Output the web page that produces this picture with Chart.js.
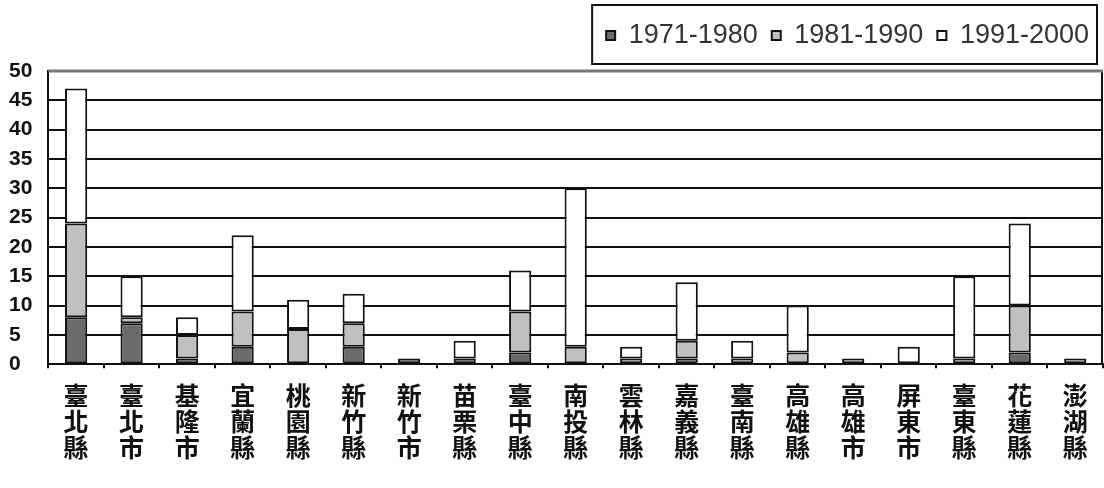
<!DOCTYPE html>
<html>
<head>
<meta charset="utf-8">
<script src="https://cdn.jsdelivr.net/npm/chart.js@4.4.1/dist/chart.umd.min.js"></script>
<style>
  html, body { margin: 0; padding: 0; background: #fff; }
  #wrap { width: 1104px; height: 488px; }
</style>
</head>
<body>
<div id="wrap"><canvas id="chart"></canvas></div>
<script>
const categories = ["臺北縣","臺北市","基隆市","宜蘭縣","桃園縣","新竹縣","新竹市","苗栗縣","臺中縣","南投縣","雲林縣","嘉義縣","臺南縣","高雄縣","高雄市","屏東市","臺東縣","花蓮縣","澎湖縣"];
const seriesNames = ["1971-1980", "1981-1990", "1991-2000"];
const s1971 = [8, 7, 1, 3, 0, 3, 1, 1, 2, 0, 0, 1, 0, 0, 0, 0, 0, 2, 0];
const s1981 = [16, 1, 4, 6, 6, 4, 0, 0, 7, 3, 1, 3, 1, 2, 1, 0, 1, 8, 1];
const s1991 = [23, 7, 3, 13, 5, 5, 0, 3, 7, 27, 2, 10, 3, 8, 0, 3, 14, 14, 0];
const yMin = 0, yMax = 50, yStep = 5;

const fills = ["#6b6b6b", "#c0c0c0", "#ffffff"];

/* frame: right and top edges of the plot + border around legend */
const framePlugin = {
  id: "frame",
  afterDraw(chart){
    const ctx = chart.ctx;
    const a = chart.chartArea;
    ctx.save();
    ctx.strokeStyle = "#111";
    ctx.lineWidth = 2;
    ctx.beginPath();
    ctx.moveTo(a.right - 1, a.top);
    ctx.lineTo(a.right - 1, a.bottom);
    ctx.stroke();
    ctx.strokeStyle = "#777";
    ctx.lineWidth = 3;
    ctx.beginPath();
    ctx.moveTo(a.left, a.top);
    ctx.lineTo(a.right, a.top);
    ctx.stroke();

    const lg = chart.legend;
    const boxes = lg.legendHitBoxes;
    if(boxes && boxes.length){
      const last = boxes[boxes.length - 1];
      const x0 = boxes[0].left - 14;
      const x1 = last.left + last.width + 8;
      const y0 = lg.top - 3;
      const y1 = lg.bottom + 5;
      ctx.strokeStyle = "#111";
      ctx.lineWidth = 2;
      ctx.strokeRect(x0, y0, x1 - x0, y1 - y0);
    }
    ctx.restore();
  }
};

new Chart(document.getElementById("chart"), {
  type: "bar",
  data: {
    labels: categories.map(c => c.split("")),
    datasets: [
      {label: seriesNames[0], data: s1971, backgroundColor: fills[0]},
      {label: seriesNames[1], data: s1981, backgroundColor: fills[1]},
      {label: seriesNames[2], data: s1991, backgroundColor: fills[2]}
    ].map(d => Object.assign(d, {
      borderColor: "#111",
      borderWidth: 2,
      borderSkipped: false,
      barPercentage: 0.8,
      categoryPercentage: 0.5
    }))
  },
  options: {
    responsive: true,
    maintainAspectRatio: false,
    animation: false,
    layout: {padding: {left: 9, right: 1, top: 8, bottom: 13}},
    plugins: {
      tooltip: {enabled: false},
      legend: {
        position: "top",
        align: "end",
        labels: {
          boxWidth: 9,
          boxHeight: 9,
          padding: 14,
          color: "#333",
          font: {family: "'Liberation Sans', Arial, sans-serif", size: 27}
        }
      }
    },
    scales: {
      x: {
        stacked: true,
        border: {color: "#111", width: 2},
        grid: {display: true, drawOnChartArea: false, offset: true, tickLength: 4, color: "#111", lineWidth: 2},
        ticks: {
          color: "#111",
          padding: 14,
          maxRotation: 0,
          autoSkip: false,
          font: {family: "'Noto Sans CJK TC', sans-serif", size: 25, weight: "bold", lineHeight: 1.05}
        }
      },
      /* empty spacer between legend and plot */
      gap: {
        type: "category",
        position: "top",
        grid: {display: false},
        border: {display: false},
        ticks: {display: false},
        afterFit(scale){ scale.height = 12; }
      },
      y: {
        stacked: true,
        min: yMin,
        max: yMax,
        border: {color: "#111", width: 2},
        grid: {color: "#111", lineWidth: 2, drawTicks: false},
        ticks: {
          stepSize: yStep,
          color: "#111",
          padding: 8,
          crossAlign: "far",
          font: {family: "'Liberation Sans', Arial, sans-serif", size: 21, weight: "bold"}
        }
      }
    }
  },
  plugins: [framePlugin]
});
</script>
</body>
</html>
